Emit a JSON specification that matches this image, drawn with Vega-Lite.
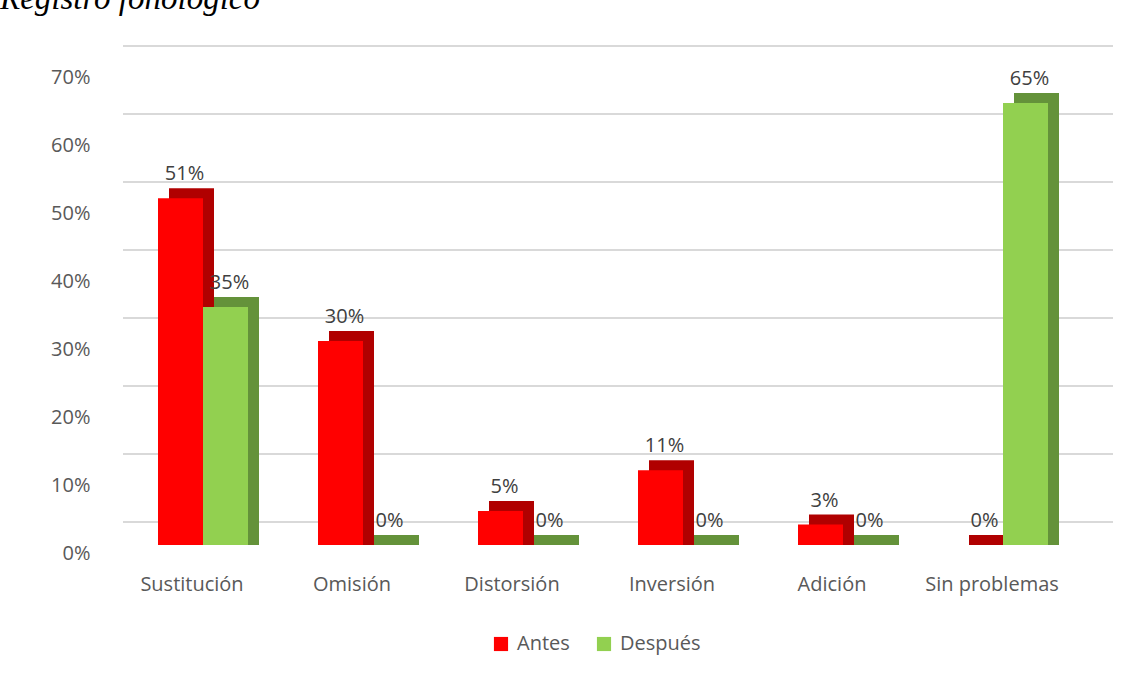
{
  "$schema": "https://vega.github.io/schema/vega-lite/v6.json",
  "width": 960,
  "height": 476,
  "autosize": {"type": "none"},
  "padding": {"left": 123, "top": 69, "right": 65, "bottom": 129},
  "background": "white",
  "title": {
    "text": "Registro fonológico",
    "font": "Liberation Serif",
    "fontStyle": "italic",
    "fontWeight": "normal",
    "fontSize": 33,
    "color": "#000000",
    "anchor": "start",
    "frame": "group",
    "orient": "top",
    "dx": -123,
    "offset": 29
  },
  "config": {
    "view": {"stroke": null},
    "font": "Open Sans"
  },
  "datasets": {
    "registro": [
      {"categoria": "Sustitución", "momento": "Antes", "valor": 0.51},
      {"categoria": "Sustitución", "momento": "Después", "valor": 0.35},
      {"categoria": "Omisión", "momento": "Antes", "valor": 0.30},
      {"categoria": "Omisión", "momento": "Después", "valor": 0.0},
      {"categoria": "Distorsión", "momento": "Antes", "valor": 0.05},
      {"categoria": "Distorsión", "momento": "Después", "valor": 0.0},
      {"categoria": "Inversión", "momento": "Antes", "valor": 0.11},
      {"categoria": "Inversión", "momento": "Después", "valor": 0.0},
      {"categoria": "Adición", "momento": "Antes", "valor": 0.03},
      {"categoria": "Adición", "momento": "Después", "valor": 0.0},
      {"categoria": "Sin problemas", "momento": "Antes", "valor": 0.0},
      {"categoria": "Sin problemas", "momento": "Después", "valor": 0.65}
    ],
    "rejilla": [
      {"v": 0.0}, {"v": 0.1}, {"v": 0.2}, {"v": 0.3}, {"v": 0.4}, {"v": 0.5}, {"v": 0.6}, {"v": 0.7}
    ]
  },
  "layer": [
    {
      "data": {"name": "rejilla"},
      "mark": {"type": "rule", "color": "#D9D9D9", "strokeWidth": 2, "xOffset": 30, "yOffset": -23},
      "encoding": {
        "y": {
          "field": "v",
          "type": "quantitative",
          "scale": {"domain": [0, 0.7], "nice": false},
          "axis": {
            "title": null,
            "format": ".0%",
            "values": [0, 0.1, 0.2, 0.3, 0.4, 0.5, 0.6, 0.7],
            "domain": false,
            "ticks": false,
            "grid": false,
            "labelOffset": 8,
            "labelPadding": 33,
            "labelFontSize": 20,
            "labelColor": "#595959",
            "labelFont": "Open Sans"
          }
        }
      }
    },
    {
      "data": {"name": "registro"},
      "encoding": {
        "x": {
          "field": "categoria",
          "type": "nominal",
          "sort": ["Sustitución", "Omisión", "Distorsión", "Inversión", "Adición", "Sin problemas"],
          "scale": {"paddingInner": 0.4375, "paddingOuter": 0.21875},
          "axis": {
            "title": null,
            "labelAngle": 0,
            "domain": false,
            "ticks": false,
            "grid": false,
            "labelOffset": -11,
            "labelPadding": 29,
            "labelFontSize": 20,
            "labelColor": "#595959",
            "labelFont": "Open Sans"
          }
        },
        "y": {
          "field": "valor",
          "type": "quantitative",
          "scale": {"domain": [0, 0.7], "nice": false},
          "axis": {
            "title": null,
            "format": ".0%",
            "values": [0, 0.1, 0.2, 0.3, 0.4, 0.5, 0.6, 0.7],
            "domain": false,
            "ticks": false,
            "grid": false,
            "labelOffset": 8,
            "labelPadding": 33,
            "labelFontSize": 20,
            "labelColor": "#595959",
            "labelFont": "Open Sans"
          }
        }
      },
      "layer": [
        {
          "mark": {"type": "bar", "yOffset": -10, "y2Offset": 0},
          "encoding": {
            "y": {"field": "valor", "type": "quantitative", "stack": null},
            "y2": {"datum": 0},
            "xOffset": {"field": "momento", "type": "nominal", "sort": ["Antes", "Después"], "scale": {"range": [11, 101]}},
            "color": {
              "condition": {"test": "datum.momento === 'Antes'", "value": "#B00000"},
              "value": "#64923A"
            }
          }
        },
        {
          "mark": {"type": "bar"},
          "encoding": {
            "xOffset": {"field": "momento", "type": "nominal", "sort": ["Antes", "Después"]},
            "color": {
              "field": "momento",
              "type": "nominal",
              "sort": ["Antes", "Después"],
              "scale": {"domain": ["Antes", "Después"], "range": ["#FF0000", "#92D050"]},
              "legend": {
                "title": null,
                "orient": "none",
                "legendX": 368,
                "legendY": 565,
                "direction": "horizontal",
                "symbolType": "square",
                "symbolSize": 200,
                "symbolStrokeWidth": 0,
                "labelFontSize": 20,
                "labelColor": "#595959",
                "labelFont": "Open Sans",
                "labelOffset": 6,
                "columnPadding": 24
              }
            }
          }
        },
        {
          "mark": {"type": "text", "baseline": "bottom", "dy": -14, "dx": 4, "fontSize": 20, "color": "#404040", "font": "Open Sans"},
          "encoding": {
            "xOffset": {"field": "momento", "type": "nominal", "sort": ["Antes", "Después"]},
            "text": {"field": "valor", "type": "quantitative", "format": ".0%"}
          }
        }
      ],
      "resolve": {"scale": {"xOffset": "independent"}}
    }
  ]
}
